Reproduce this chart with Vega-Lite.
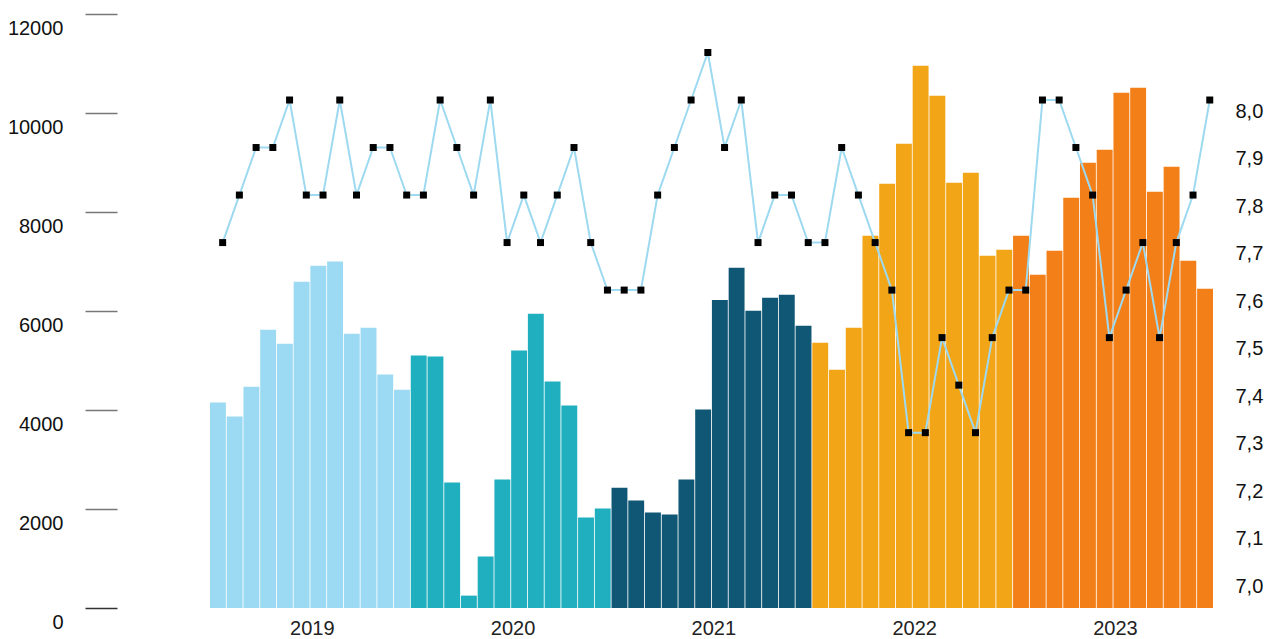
{
  "$schema": "https://vega.github.io/schema/vega-lite/v6.json",
  "autosize": "none",
  "width": 1003,
  "height": 594,
  "padding": {"left": 210, "top": 14, "right": 58, "bottom": 31},
  "background": "white",
  "config": {"view": {"stroke": null}, "font": "Liberation Sans"},
  "data": {"values": [
    {"m": "2019-01", "year": "2019", "v": 4150, "r": 7.7},
    {"m": "2019-02", "year": "2019", "v": 3870, "r": 7.8},
    {"m": "2019-03", "year": "2019", "v": 4470, "r": 7.9},
    {"m": "2019-04", "year": "2019", "v": 5620, "r": 7.9},
    {"m": "2019-05", "year": "2019", "v": 5340, "r": 8.0},
    {"m": "2019-06", "year": "2019", "v": 6590, "r": 7.8},
    {"m": "2019-07", "year": "2019", "v": 6915, "r": 7.8},
    {"m": "2019-08", "year": "2019", "v": 7000, "r": 8.0},
    {"m": "2019-09", "year": "2019", "v": 5540, "r": 7.8},
    {"m": "2019-10", "year": "2019", "v": 5660, "r": 7.9},
    {"m": "2019-11", "year": "2019", "v": 4715, "r": 7.9},
    {"m": "2019-12", "year": "2019", "v": 4410, "r": 7.8},
    {"m": "2020-01", "year": "2020", "v": 5100, "r": 7.8},
    {"m": "2020-02", "year": "2020", "v": 5080, "r": 8.0},
    {"m": "2020-03", "year": "2020", "v": 2535, "r": 7.9},
    {"m": "2020-04", "year": "2020", "v": 250, "r": 7.8},
    {"m": "2020-05", "year": "2020", "v": 1040, "r": 8.0},
    {"m": "2020-06", "year": "2020", "v": 2595, "r": 7.7},
    {"m": "2020-07", "year": "2020", "v": 5200, "r": 7.8},
    {"m": "2020-08", "year": "2020", "v": 5945, "r": 7.7},
    {"m": "2020-09", "year": "2020", "v": 4575, "r": 7.8},
    {"m": "2020-10", "year": "2020", "v": 4090, "r": 7.9},
    {"m": "2020-11", "year": "2020", "v": 1830, "r": 7.7},
    {"m": "2020-12", "year": "2020", "v": 2010, "r": 7.6},
    {"m": "2021-01", "year": "2021", "v": 2430, "r": 7.6},
    {"m": "2021-02", "year": "2021", "v": 2170, "r": 7.6},
    {"m": "2021-03", "year": "2021", "v": 1928, "r": 7.8},
    {"m": "2021-04", "year": "2021", "v": 1888, "r": 7.9},
    {"m": "2021-05", "year": "2021", "v": 2594, "r": 8.0},
    {"m": "2021-06", "year": "2021", "v": 4008, "r": 8.1},
    {"m": "2021-07", "year": "2021", "v": 6220, "r": 7.9},
    {"m": "2021-08", "year": "2021", "v": 6875, "r": 8.0},
    {"m": "2021-09", "year": "2021", "v": 6006, "r": 7.7},
    {"m": "2021-10", "year": "2021", "v": 6269, "r": 7.8},
    {"m": "2021-11", "year": "2021", "v": 6330, "r": 7.8},
    {"m": "2021-12", "year": "2021", "v": 5704, "r": 7.7},
    {"m": "2022-01", "year": "2022", "v": 5360, "r": 7.7},
    {"m": "2022-02", "year": "2022", "v": 4815, "r": 7.9},
    {"m": "2022-03", "year": "2022", "v": 5663, "r": 7.8},
    {"m": "2022-04", "year": "2022", "v": 7521, "r": 7.7},
    {"m": "2022-05", "year": "2022", "v": 8571, "r": 7.6},
    {"m": "2022-06", "year": "2022", "v": 9379, "r": 7.3},
    {"m": "2022-07", "year": "2022", "v": 10953, "r": 7.3},
    {"m": "2022-08", "year": "2022", "v": 10347, "r": 7.5},
    {"m": "2022-09", "year": "2022", "v": 8592, "r": 7.4},
    {"m": "2022-10", "year": "2022", "v": 8794, "r": 7.3},
    {"m": "2022-11", "year": "2022", "v": 7117, "r": 7.5},
    {"m": "2022-12", "year": "2022", "v": 7238, "r": 7.6},
    {"m": "2023-01", "year": "2023", "v": 7521, "r": 7.6},
    {"m": "2023-02", "year": "2023", "v": 6733, "r": 8.0},
    {"m": "2023-03", "year": "2023", "v": 7218, "r": 8.0},
    {"m": "2023-04", "year": "2023", "v": 8288, "r": 7.9},
    {"m": "2023-05", "year": "2023", "v": 8995, "r": 7.8},
    {"m": "2023-06", "year": "2023", "v": 9258, "r": 7.5},
    {"m": "2023-07", "year": "2023", "v": 10409, "r": 7.6},
    {"m": "2023-08", "year": "2023", "v": 10510, "r": 7.7},
    {"m": "2023-09", "year": "2023", "v": 8410, "r": 7.5},
    {"m": "2023-10", "year": "2023", "v": 8915, "r": 7.7},
    {"m": "2023-11", "year": "2023", "v": 7016, "r": 7.8},
    {"m": "2023-12", "year": "2023", "v": 6451, "r": 8.0}
  ]},
  "encoding": {
    "x": {
      "field": "m", "type": "ordinal", "sort": null,
      "scale": {"type": "band", "paddingInner": 0.05, "paddingOuter": 0},
      "axis": {
        "title": null, "domain": false, "ticks": false, "labelAngle": 0,
        "values": ["2019-07", "2020-07", "2021-07", "2022-07", "2023-07"],
        "labelExpr": "slice(datum.value, 0, 4)",
        "labelOffset": -6, "labelPadding": 10, "labelFontSize": 20,
        "labelColor": "#222222", "labelFont": "Liberation Sans"
      }
    }
  },
  "layer": [
    {
      "mark": {"type": "bar"},
      "encoding": {
        "y": {
          "field": "v", "type": "quantitative",
          "scale": {"domain": [0, 12000], "nice": false},
          "axis": {
            "title": null, "orient": "left", "offset": 93, "domain": false, "grid": false,
            "values": [0, 2000, 4000, 6000, 8000, 10000, 12000],
            "tickSize": 32, "tickColor": {"expr": "datum.value === 0 ? '#333333' : '#777777'"}, "tickWidth": 1.3,
            "labelPadding": 22, "labelOffset": 14, "labelFontSize": 20,
            "labelColor": "#111111", "labelFont": "Liberation Sans", "format": "d"
          }
        },
        "color": {
          "field": "year", "type": "nominal", "legend": null,
          "scale": {"domain": ["2019", "2020", "2021", "2022", "2023"],
                    "range": ["#9BDAF2", "#20AFBF", "#0F5775", "#F2A516", "#F27F18"]}
        }
      }
    },
    {
      "encoding": {
        "y": {
          "field": "r", "type": "quantitative",
          "scale": {"domain": [6.931, 8.181], "nice": false, "zero": false},
          "axis": {
            "title": null, "orient": "right", "domain": false, "ticks": false, "grid": false,
            "values": [7.0, 7.1, 7.2, 7.3, 7.4, 7.5, 7.6, 7.7, 7.8, 7.9, 8.0],
            "labelExpr": "replace(format(datum.value, '.1f'), '.', ',')",
            "labelPadding": 22, "labelOffset": 11, "labelFontSize": 20,
            "labelColor": "#111111", "labelFont": "Liberation Sans"
          }
        }
      },
      "layer": [
        {
          "mark": {"type": "line", "color": "#9DD9F0", "strokeWidth": 2, "xOffset": 4.7}
        },
        {
          "mark": {"type": "point", "shape": "square", "filled": true, "color": "#000000", "size": 49, "opacity": 1, "xOffset": 4.7}
        }
      ]
    }
  ],
  "resolve": {"scale": {"y": "independent"}}
}
